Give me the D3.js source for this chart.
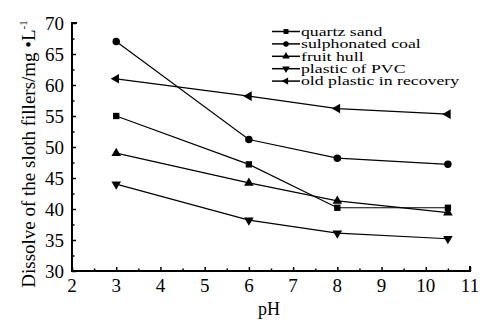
<!DOCTYPE html>
<html>
<head>
<meta charset="utf-8">
<script src="https://cdn.jsdelivr.net/npm/d3@7"></script>
<style>
  body { margin: 0; background: #fff; }
  svg text { font-family: "Liberation Serif", "DejaVu Serif", "Times New Roman", serif; fill: #000; }
</style>
</head>
<body>
<svg id="chart" width="484" height="320"></svg>
<script>
"use strict";

var phValues = [3, 6, 8, 10.5];
var seriesNames = ["quartz sand", "sulphonated coal", "fruit hull", "plastic of PVC", "old plastic in recovery"];
var quartzSand = [55, 47.2, 40.2, 40.2];
var sulphCoal = [67, 51.2, 48.2, 47.2];
var fruitHull = [49, 44.2, 41.3, 39.4];
var plasticPVC = [44, 38.2, 36.1, 35.2];
var oldPlastic = [61, 58.2, 56.2, 55.3];
var xTicks = [2, 3, 4, 5, 6, 7, 8, 9, 10, 11];
var yTicks = [30, 35, 40, 45, 50, 55, 60, 65, 70];

var allSeries = [quartzSand, sulphCoal, fruitHull, plasticPVC, oldPlastic];
// marker shape + rotation for each series
var markers = [
  { type: d3.symbolSquare, size: 40, rot: 0 },
  { type: d3.symbolCircle, size: 44, rot: 0 },
  { type: d3.symbolTriangle, size: 40, rot: 0 },
  { type: d3.symbolTriangle, size: 40, rot: 180 },
  { type: d3.symbolTriangle, size: 40, rot: -90 }
];

var svg = d3.select("#chart");
var x = d3.scaleLinear().domain([2, 11]).range([72, 470]);
var y = d3.scaleLinear().domain([30, 70]).range([271, 23]);

// axes: inward ticks, minor ticks at half steps
var xAxis = d3.axisTop(x).tickValues(d3.range(2, 11.01, 0.5)).tickSize(4).tickFormat("");
svg.append("g").attr("transform", "translate(0," + y(30) + ")").call(xAxis)
  .call(function (g) {
    g.select(".domain").remove();
    g.selectAll(".tick line").attr("stroke", "#000").attr("stroke-width", 1.5)
      .attr("y2", function (d) { return d % 1 === 0 ? -4 : -2.5; });
  });
var yAxis = d3.axisRight(y).tickValues(d3.range(30, 70.01, 2.5)).tickSize(4).tickFormat("");
svg.append("g").attr("transform", "translate(" + x(2) + ",0)").call(yAxis)
  .call(function (g) {
    g.select(".domain").remove();
    g.selectAll(".tick line").attr("stroke", "#000").attr("stroke-width", 1.5)
      .attr("x2", function (d) { return d % 5 === 0 ? 4 : 2.5; });
  });
svg.append("path")
  .attr("d", "M" + (x(2) + 5) + "," + y(70) + "H" + x(2) + "V" + y(30) + "H" + x(11) + "V" + (y(30) - 5))
  .attr("fill", "none").attr("stroke", "#000").attr("stroke-width", 2);

svg.append("g").selectAll("text").data(xTicks).join("text")
  .attr("x", function (d) { return x(d); })
  .attr("y", y(30) + 21)
  .attr("text-anchor", "middle")
  .style("font-size", "19px")
  .text(function (d) { return d; });

svg.append("g").selectAll("text").data(yTicks).join("text")
  .attr("x", x(2) - 8)
  .attr("y", function (d) { return y(d) + 6.5; })
  .attr("text-anchor", "end")
  .style("font-size", "19px")
  .text(function (d) { return d; });

svg.append("text").attr("x", 269).attr("y", 315).attr("text-anchor", "middle")
  .style("font-size", "18px").text("pH");

svg.append("text")
  .attr("transform", "translate(35,154) rotate(-90)")
  .attr("text-anchor", "middle")
  .style("font-size", "19px")
  .text("Dissolve of the sloth fillers/mg \u2022L")
  .append("tspan").attr("dy", -8).style("font-size", "11px").text("-1");

var line = d3.line()
  .x(function (d, i) { return x(phValues[i]); })
  .y(function (d) { return y(d); });

function symbolPath(m, size) {
  return d3.symbol().type(m.type).size(size || m.size)();
}

allSeries.forEach(function (vals, k) {
  svg.append("path").datum(vals)
    .attr("d", line)
    .attr("fill", "none").attr("stroke", "#000").attr("stroke-width", 1.2);
  svg.append("g").selectAll("path").data(vals).join("path")
    .attr("d", symbolPath(markers[k]))
    .attr("transform", function (d, i) {
      return "translate(" + x(phValues[i]) + "," + y(d) + ") rotate(" + markers[k].rot + ")";
    })
    .attr("fill", "#000");
});

// legend (scanned text is wide, so stretch it a bit)
var legend = svg.append("g");
seriesNames.forEach(function (name, k) {
  var ly = 31.5 + k * 12.4;
  legend.append("line").attr("x1", 272).attr("x2", 300).attr("y1", ly).attr("y2", ly)
    .attr("stroke", "#000").attr("stroke-width", 1.5);
  legend.append("path").attr("d", symbolPath(markers[k], 24))
    .attr("transform", "translate(286," + ly + ") rotate(" + markers[k].rot + ")")
    .attr("fill", "#000");
  legend.append("text")
    .attr("transform", "translate(301," + (ly + 4.2) + ") scale(1.42,1)")
    .style("font-size", "12.5px").text(name);
});
</script>
</body>
</html>
